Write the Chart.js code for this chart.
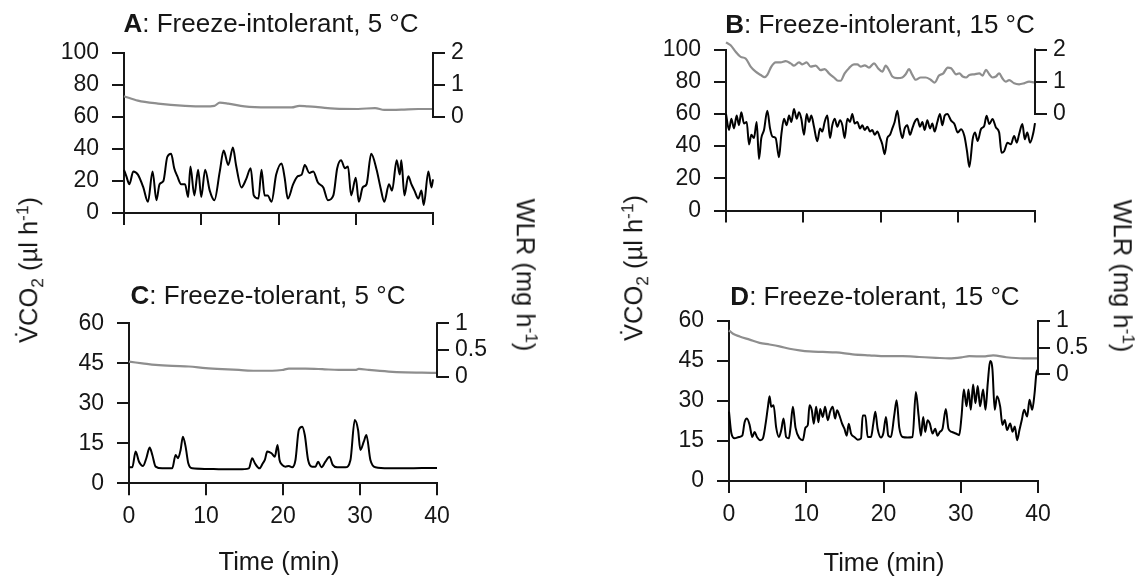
<!DOCTYPE html>
<html>
<head>
<meta charset="utf-8">
<script src="https://cdn.jsdelivr.net/npm/chart.js@4.4.1/dist/chart.umd.min.js"></script>
<style>
  body { margin: 0; background: #fff; }
  #page { position: relative; width: 1147px; height: 580px; overflow: hidden; font-family: "Liberation Sans", Arial, sans-serif; color: #161616; }
  canvas { position: absolute; }
  .lbl { position: absolute; white-space: nowrap; font-size: 25.5px; line-height: 1; transform: translate(-50%, -50%); }
  .title { font-size: 26px; }
  .up { transform: translate(-50%, -50%) rotate(-90deg); }
  .down { transform: translate(-50%, -50%) rotate(90deg); }
  sub, sup { font-size: 0.68em; line-height: 0; }
</style>
</head>
<body>
<div id="page">
  <canvas id="cA" width="574" height="250" style="left:0;top:0"></canvas>
  <canvas id="cB" width="573" height="250" style="left:574px;top:0"></canvas>
  <canvas id="cC" width="574" height="300" style="left:0;top:280px"></canvas>
  <canvas id="cD" width="573" height="300" style="left:574px;top:280px"></canvas>

  <div class="lbl title" style="left:271px;top:23px"><b>A</b>: Freeze-intolerant, 5 °C</div>
  <div class="lbl title" style="left:880px;top:24px"><b>B</b>: Freeze-intolerant, 15 °C</div>
  <div class="lbl title" style="left:268px;top:295px"><b>C</b>: Freeze-tolerant, 5 °C</div>
  <div class="lbl title" style="left:875px;top:296px"><b>D</b>: Freeze-tolerant, 15 °C</div>

  <div class="lbl up" style="left:29px;top:270px">V&#775;CO<sub>2</sub> (µl h<sup>-1</sup>)</div>
  <div class="lbl down" style="left:525px;top:275px">WLR (mg h<sup>-1</sup>)</div>
  <div class="lbl up" style="left:634px;top:268px">V&#775;CO<sub>2</sub> (µl h<sup>-1</sup>)</div>
  <div class="lbl down" style="left:1122px;top:276px">WLR (mg h<sup>-1</sup>)</div>

  <div class="lbl" style="left:279px;top:562px">Time (min)</div>
  <div class="lbl" style="left:884px;top:563px">Time (min)</div>
</div>

<script>
// A: freeze-intolerant, 5 °C
const aTime = [0,0.3,0.7,1.2,1.8,2.5,3.1,3.7,4.2,4.6,5.1,5.6,6.1,6.5,6.9,7.4,7.9,8.3,8.6,9.1,
  9.6,10.0,10.5,11.1,11.7,12.4,12.9,13.5,14.1,14.5,15.2,15.8,16.4,16.8,17.4,17.8,18.2,18.6,19.1,19.7,
  20.4,20.8,21.2,21.9,22.5,23.0,23.4,24.0,24.5,25.1,25.8,26.4,27.1,27.6,28.1,28.6,29.0,29.4,30.0,30.4,
  30.9,31.4,32.0,32.7,33.2,33.7,34.3,34.7,35.3,35.7,35.9,36.3,36.8,37.2,37.6,38.1,38.5,38.8,39.4,39.8,40.0]
const aVco2 = [27,23,18,26,24,16,7,26,8,18,20,35,37,28,23,18,18,10,29,11,
  27,10,27,14,8,26,39,30,41,30,16,21,28,11,9,27,11,11,7,24,
  31,22,9,18,23,24,30,25,26,19,16,8,11,28,33,28,29,11,22,7,
  16,18,37,27,16,7,18,14,33,24,33,11,23,18,14,9,14,5,26,16,21]
const aWlrTime = [0,1.8,4.4,7.9,10.4,11.7,12.4,13.5,15.6,18.6,21.7,22.7,23.8,25.1,27.3,30.3,32.5,33.7,35.9,38.1,40]
const aWlr = [0.65,0.51,0.42,0.35,0.33,0.35,0.45,0.42,0.33,0.3,0.3,0.35,0.33,0.31,0.26,0.25,0.28,0.22,0.23,0.25,0.25]

// B: freeze-intolerant, 15 °C
const bTime = [0,0.39,0.69,1.04,1.38,1.68,1.98,2.33,2.68,2.98,
  3.28,3.62,3.97,4.27,4.57,4.92,5.35,5.7,6.0,6.43,
  6.86,7.16,7.51,7.85,8.16,8.46,8.8,9.15,9.45,9.75,
  10.1,10.44,10.74,11.05,11.39,11.82,12.17,12.47,12.77,13.12,
  13.46,13.76,14.07,14.41,14.76,15.06,15.36,15.71,16.05,16.35,
  16.66,17.0,17.35,17.65,17.95,18.3,18.64,18.94,19.25,19.59,
  19.94,20.24,20.54,20.88,21.23,21.53,21.83,22.18,22.52,22.83,
  23.13,23.47,23.82,24.12,24.42,24.77,25.11,25.42,25.72,26.06,
  26.41,26.71,27.01,27.36,27.7,28.0,28.31,28.65,
  29.14,29.57,30.0,30.43,30.86,31.2,31.5,31.93,32.23,32.58,
  33.0,33.43,33.73,34.08,34.5,34.94,35.36,35.67,36.0,36.44,
  36.87,37.3,37.64,37.94,38.37,38.67,39.0,39.36,39.79,40]
const bVco2 = [60,50,57,51,59,53,61,54,55,41,
  47,45,55,32,45,50,62,51,46,45,
  33,47,57,53,59,55,63,57,61,57,
  47,60,55,59,52,43,51,49,55,59,
  45,53,57,52,56,53,45,57,55,60,
  54,55,51,53,50,52,49,50,47,49,
  45,41,35,45,47,51,55,62,51,45,
  51,53,47,51,55,57,52,55,50,56,
  51,54,49,55,60,53,59,60,
  55.8,53.7,48.4,50.5,46.3,36.8,27,44.2,48.4,43.2,
  50.5,52.6,58.9,53.7,56.8,51.6,48.4,35.8,36.8,42.1,
  41.1,46.3,42.1,47.4,53.7,44.2,48.4,42.1,48.4,54.3]
const bWlrTime = [0,0.6,1.25,1.9,2.55,3.19,3.84,4.49,5.0,5.35,
  5.87,6.43,7.08,7.72,8.37,8.8,9.45,9.88,10.44,10.96,
  11.61,12.25,12.77,13.33,13.98,14.5,14.84,15.36,15.92,16.57,
  17.0,17.43,17.95,18.51,19.16,19.68,20.24,20.67,21.1,21.53,
  22.18,22.83,23.26,23.69,24.12,24.55,25.2,25.85,26.49,27.01,
  27.57,28.13,28.7,
  29.14,29.79,30.21,30.64,31.07,31.5,32.15,32.79,33.22,33.65,
  34.08,34.51,34.94,35.36,35.79,36.22,36.65,37.3,37.94,38.58,39.23,39.87]
const bWlr = [2.22,2.13,1.93,1.77,1.72,1.47,1.31,1.21,1.14,1.21,
  1.47,1.6,1.6,1.64,1.57,1.5,1.6,1.54,1.6,1.47,
  1.5,1.36,1.39,1.26,1.13,1.03,1.03,1.26,1.42,1.54,
  1.54,1.47,1.51,1.44,1.57,1.42,1.31,1.5,1.36,1.16,
  1.11,1.13,1.23,1.39,1.21,1.06,1.13,1.13,1.06,0.97,
  1.19,1.26,1.44,
  1.42,1.23,1.26,1.16,1.13,1.21,1.23,1.26,1.19,1.37,
  1.23,1.13,1.16,1.26,1.1,1.0,1.05,0.95,0.92,0.95,1.0,0.98]

// C: freeze-tolerant, 5 °C
const cTime = [0,0.43,0.86,1.3,1.82,2.25,2.68,3.03,3.46,4.32,
  5.62,6.05,6.36,6.7,7.0,7.35,7.7,8.22,9.95,12.11,
  14.27,15.57,16.0,16.35,16.95,17.38,17.64,17.95,18.51,18.94,
  19.29,19.55,19.89,20.32,20.76,21.19,21.62,22.05,22.49,22.83,
  23.26,23.78,24.22,24.56,25.0,25.51,26.03,26.46,27.03,28.11,
  28.76,29.32,29.75,30.05,30.49,30.83,31.35,32.0,33.73,35.89,38.05,40]
const cVco2 = [6,6,11.9,8.1,6.5,9.4,13.4,10.6,6.25,5.6,
  5.6,10.6,9.4,12.5,17.5,13.75,7.5,5.6,5.4,5.25,
  5.25,5.6,9.4,7.5,5.6,7.5,8.75,11.9,11.25,10,
  14.4,8.75,6.9,6.25,6.5,6,8.75,20,21.25,18.1,
  8.75,6.25,6.25,8.1,6,8.1,10,6.9,6,6,
  8.75,23.75,20,12.5,15.6,18.1,8.75,6,5.6,5.6,5.75,5.75]
const cWlrTime = [0,1.73,3.46,5.62,7.78,9.95,12.11,14.27,16.43,18.59,19.89,20.76,22.92,25.08,27.24,29.41,29.84,31.14,33.73,35.89,38.05,40]
const cWlr = [0.28,0.25,0.22,0.2,0.19,0.16,0.14,0.125,0.11,0.11,0.125,0.15,0.15,0.14,0.125,0.125,0.145,0.125,0.094,0.08,0.075,0.07]

// D: freeze-tolerant, 15 °C
const dTime = [0,0.3,0.73,1.29,1.72,2.02,2.32,2.67,3.01,3.31,
  3.62,4.05,4.39,4.74,5.04,5.25,5.47,5.77,6.11,6.46,
  6.76,7.06,7.4,7.75,7.96,8.27,8.61,9.13,9.56,9.9,
  10.2,10.42,10.72,10.98,11.28,11.58,11.8,12.14,12.44,12.79,
  13.09,13.43,13.73,13.99,14.29,14.64,14.94,15.24,15.5,15.8,
  16.23,16.66,17.09,17.31,17.65,17.95,18.38,18.68,18.94,19.24,
  19.67,19.97,20.32,20.62,20.96,21.39,21.7,22.04,22.47,23.12,
  23.76,24.19,24.54,24.84,25.14,25.4,25.7,26.0,26.35,26.69,
  26.99,27.29,27.64,28.07,28.41,28.84,29.36,
  29.8,30.1,30.4,30.75,31.0,31.3,31.6,31.9,32.2,32.5,
  32.9,33.2,33.5,33.8,34.1,34.4,34.7,35.1,35.4,35.7,
  36.0,36.4,36.7,37.0,37.3,37.6,37.9,38.2,38.6,38.9,
  39.25,39.56,39.8,40]
const dVco2 = [26,18,16,16.5,17,22,23.4,21,16.5,18.4,
  16.5,15.3,16,21.5,27.8,31.8,27.8,28.4,20,16.5,
  19,23.4,16.5,16,20,27.8,20,16,15.3,20,
  21,28.4,26.5,21.5,27.8,22,27,24,27.8,22.8,
  26,27.8,23.4,26.5,24.6,21.5,19.6,17,21.5,17.8,
  16.5,15.5,16,24.6,24.6,16.5,16.5,21.5,26,19.6,
  16.3,17.8,24,17,16.5,24.6,30.3,20,16.5,16.3,
  16.5,33.4,24.6,17,24,18.4,22.8,21.5,17.8,19.6,
  17,18.4,19.6,27,19.6,18.4,17.8,
  17.2,24.2,34.3,28,34.3,26.7,36.2,29.2,35.6,28,
  34.3,26.7,36.8,45,41.9,26.7,31.8,28,21,22.9,
  19.1,21.6,18.5,20.4,15.3,19.1,22.9,26.7,24.2,30.5,
  26.7,33,40.6,41.9]
const dWlrTime = [0,0.52,1.38,2.67,3.96,5.25,6.54,7.83,9.13,10.42,12.14,13.86,16.01,18.17,20.32,22.47,24.62,26.78,28.5,30.2,31.1,32.9,34.2,35.9,38.1,40]
const dWlr = [0.825,0.76,0.71,0.65,0.59,0.56,0.525,0.48,0.45,0.43,0.42,0.41,0.375,0.356,0.34,0.34,0.325,0.31,0.3,0.32,0.34,0.335,0.355,0.32,0.3,0.3]

const ink = "#161616"
const grey = "#8e8e8e"

Chart.defaults.font.family = "'Liberation Sans', Arial, sans-serif"
Chart.defaults.font.size = 23
Chart.defaults.color = ink

function zip(xs, ys) {
    const n = Math.min(xs.length, ys.length)
    const pts = []
    for (let i = 0; i < n; i++) pts.push({ x: xs[i], y: ys[i] })
    return pts
}

// right axis spine only spans its own ticks (bracket style)
const rightSpine = {
    id: "rightSpine",
    afterDraw(chart) {
        const s = chart.scales.yR
        const vals = s.ticks.map(t => t.value)
        const c = chart.ctx
        c.save()
        c.strokeStyle = ink
        c.lineWidth = 2
        c.beginPath()
        c.moveTo(s.left, s.getPixelForValue(Math.min(...vals)) + 1)
        c.lineTo(s.left, s.getPixelForValue(Math.max(...vals)) - 1)
        c.stroke()
        c.restore()
    }
}

function panel(id, o) {
    const tickGrid = { drawOnChartArea: false, drawTicks: true, tickLength: 12, color: ink, lineWidth: 2 }
    return new Chart(document.getElementById(id), {
        type: "line",
        data: {
            datasets: [
                { data: zip(o.wt, o.w), yAxisID: "yR", borderColor: grey, borderWidth: 2.2,
                  cubicInterpolationMode: "monotone", clip: false },
                { data: zip(o.t, o.v), yAxisID: "y", borderColor: "#000", borderWidth: 2,
                  cubicInterpolationMode: "monotone", clip: false }
            ]
        },
        options: {
            responsive: false,
            animation: false,
            events: [],
            layout: { padding: { top: o.top, left: 0, right: 0, bottom: 0 } },
            plugins: { legend: { display: false }, tooltip: { enabled: false } },
            elements: { point: { radius: 0 } },
            scales: {
                x: {
                    type: "linear", min: 0, max: 40,
                    ticks: { stepSize: 10, display: o.xLabels, padding: 8, autoSkip: false, maxRotation: 0 },
                    grid: tickGrid,
                    border: { color: ink, width: 2 },
                    afterFit: s => { s.height = o.xH }
                },
                y: {
                    min: 0, max: o.yMax,
                    ticks: { stepSize: o.yStep, padding: 13, autoSkip: false },
                    grid: tickGrid,
                    border: { color: ink, width: 2 },
                    afterFit: s => { s.width = o.yW }
                },
                yR: {
                    position: "right", min: o.rMin, max: o.rMax,
                    ticks: { padding: 6, autoSkip: false, callback: v => String(v) },
                    afterBuildTicks: s => { s.ticks = o.rTicks.map(v => ({ value: v })) },
                    grid: tickGrid,
                    border: { display: false },
                    afterFit: s => { s.width = o.rW }
                }
            }
        },
        plugins: [rightSpine]
    })
}

panel("cA", { t: aTime, v: aVco2, wt: aWlrTime, w: aWlr, top: 53, xH: 37, yW: 124, rW: 141,
    yMax: 100, yStep: 20, rMin: -3, rMax: 2, rTicks: [0, 1, 2], xLabels: false })
panel("cB", { t: bTime, v: bVco2, wt: bWlrTime, w: bWlr, top: 49.5, xH: 39.5, yW: 152, rW: 112,
    yMax: 100, yStep: 20, rMin: -3, rMax: 2, rTicks: [0, 1, 2], xLabels: false })
panel("cC", { t: cTime, v: cVco2, wt: cWlrTime, w: cWlr, top: 43.3, xH: 96.7, yW: 129, rW: 137,
    yMax: 60, yStep: 15, rMin: -2, rMax: 1, rTicks: [0, 0.5, 1], xLabels: true })
panel("cD", { t: dTime, v: dVco2, wt: dWlrTime, w: dWlr, top: 41, xH: 99, yW: 155, rW: 109,
    yMax: 60, yStep: 15, rMin: -2, rMax: 1, rTicks: [0, 0.5, 1], xLabels: true })
</script>
</body>
</html>
